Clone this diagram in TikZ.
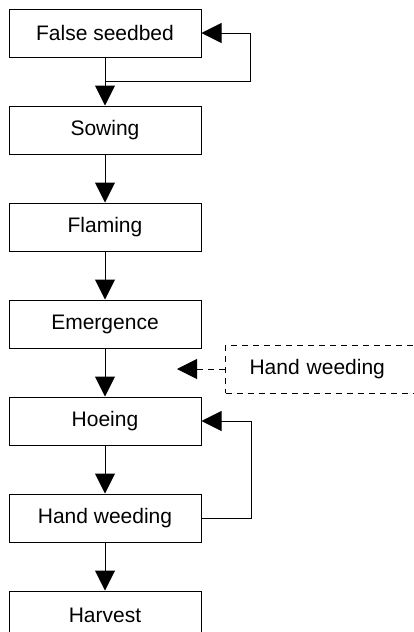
\documentclass[tikz,border=0pt]{standalone}
\usepackage{fontspec}
\setmainfont{Liberation Sans}
\usetikzlibrary{positioning,arrows.meta}

\begin{document}
\begin{tikzpicture}[x=1pt, y=1pt, line width=1pt, node distance=48pt,
    stage/.style={rectangle, draw, minimum width=192pt, minimum height=48pt,
        font=\fontsize{21}{25}\selectfont},
    flow/.style={-{Triangle[length=20pt, width=20pt]}}]
    \useasboundingbox (0,0) rectangle (414,-632);
    \node[stage] (seedbed) at (105,-33) {False seedbed};
    \node[stage, below=of seedbed] (sowing) {Sowing};
    \node[stage, below=of sowing] (flaming) {Flaming};
    \node[stage, below=of flaming] (emergence) {Emergence};
    \node[stage, below=of emergence] (hoeing) {Hoeing};
    \node[stage, below=of hoeing] (handweeding) {Hand weeding};
    \node[stage, below=of handweeding] (harvest) {Harvest};
    \node[stage, dash pattern=on 6pt off 5pt, text width=170pt, align=left,
        inner xsep=24pt, anchor=west] (extra) at (225,-369) {Hand weeding};
    \coordinate[left=48pt of extra.west] (extratip);

    \draw[flow] (seedbed) -- (sowing) coordinate[pos=0.5] (fork);
    \draw[flow] (sowing) -- (flaming);
    \draw[flow] (flaming) -- (emergence);
    \draw[flow] (emergence) -- (hoeing);
    \draw[flow] (hoeing) -- (handweeding);
    \draw[flow] (handweeding) -- (harvest);
    % loops back
    \draw[flow] (fork) -- ++(145,0) |- (seedbed.east);
    \draw[flow] (handweeding.east) -- ++(50,0) |- (hoeing.east);
    \draw[flow, dash pattern=on 6pt off 5pt] (extra.west) -- (extratip);
\end{tikzpicture}
\end{document}
